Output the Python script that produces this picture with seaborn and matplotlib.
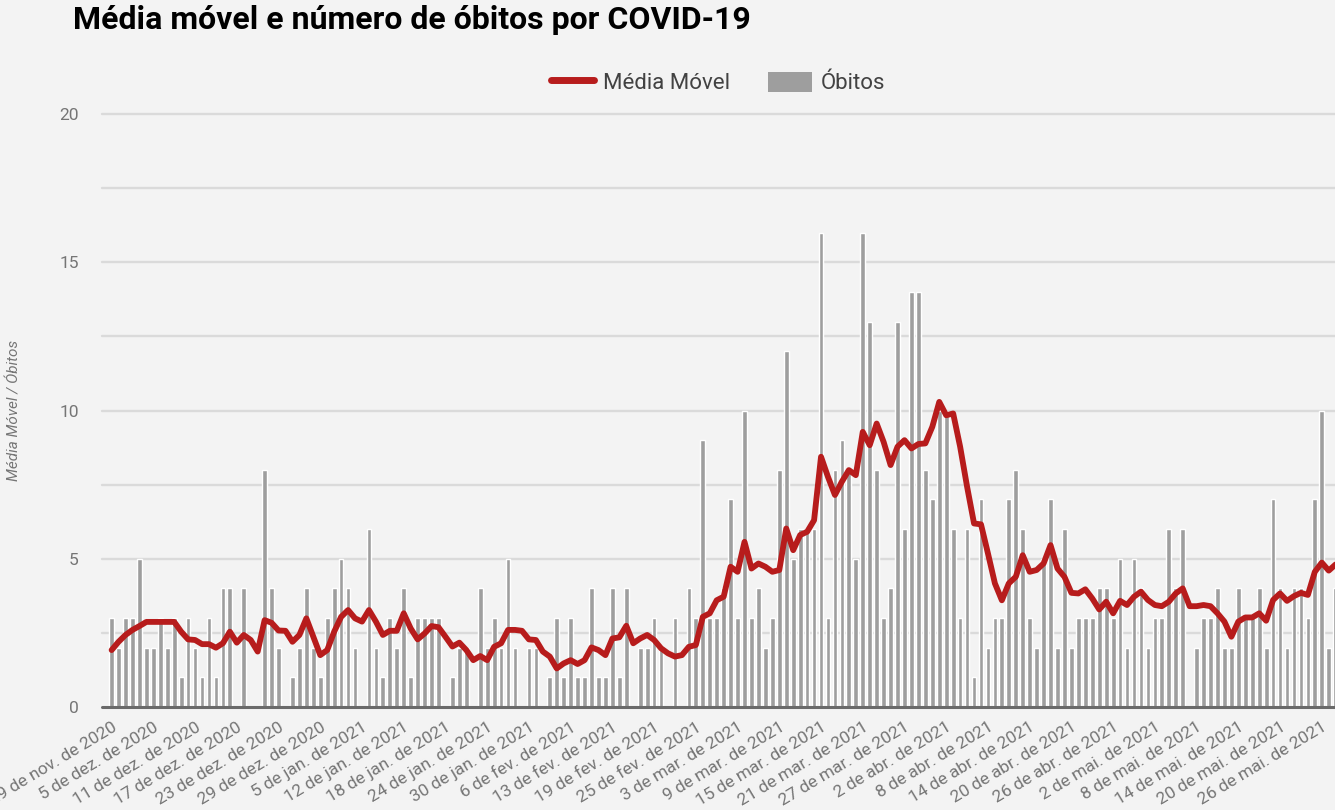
import numpy as np
import pandas as pd
import matplotlib
matplotlib.use("Agg")
import matplotlib.pyplot as plt
import seaborn as sns
from matplotlib.lines import Line2D
from matplotlib.patches import Patch

# ---------------- data ----------------
obitos = [
    3, 2, 3, 3, 5, 2, 2, 3, 2, 3,
    1, 3, 2, 1, 3, 1, 4, 4, 0, 4,
    0, 0, 8, 4, 2, 0, 1, 2, 4, 2,
    1, 3, 4, 5, 4, 2, 0, 6, 2, 1,
    3, 2, 4, 1, 3, 3, 3, 3, 0, 1,
    2, 2, 0, 4, 2, 3, 2, 5, 2, 0,
    2, 2, 0, 1, 3, 1, 3, 1, 1, 4,
    1, 1, 4, 1, 4, 0, 2, 2, 3, 2,
    0, 3, 0, 4, 3, 9, 3, 3, 4, 7,
    3, 10, 3, 4, 2, 3, 8, 12, 5, 6,
    6, 6, 16, 3, 8, 9, 8, 5, 16, 13,
    8, 3, 4, 13, 6, 14, 14, 8, 7, 10,
    10, 6, 3, 6, 1, 7, 2, 3, 3, 7,
    8, 6, 3, 2, 5, 7, 2, 6, 2, 3,
    3, 3, 4, 4, 3, 5, 2, 5, 4, 2,
    3, 3, 6, 4, 6, 0, 2, 3, 3, 4,
    2, 2, 4, 3, 3, 4, 2, 7, 4, 2,
    4, 4, 3, 7, 10, 2, 4,
]

media_movel = [
    1.92, 2.20, 2.43, 2.60, 2.73, 2.87, 2.87, 2.87, 2.87, 2.87,
    2.54, 2.28, 2.26, 2.12, 2.12, 2.00, 2.15, 2.54, 2.17, 2.43,
    2.26, 1.87, 2.93, 2.84, 2.58, 2.57, 2.20, 2.43, 2.99, 2.37,
    1.75, 1.92, 2.54, 3.04, 3.27, 2.99, 2.88, 3.27, 2.88, 2.43,
    2.57, 2.57, 3.16, 2.65, 2.28, 2.48, 2.73, 2.69, 2.37, 2.04,
    2.17, 1.92, 1.58, 1.72, 1.58, 2.03, 2.15, 2.60, 2.60, 2.57,
    2.28, 2.26, 1.87, 1.70, 1.30, 1.47, 1.58, 1.45, 1.58, 2.01,
    1.92, 1.75, 2.31, 2.35, 2.74, 2.15, 2.31, 2.43, 2.26, 1.98,
    1.81, 1.70, 1.75, 2.03, 2.09, 3.04, 3.16, 3.60, 3.72, 4.73,
    4.56, 5.57, 4.67, 4.84, 4.73, 4.56, 4.62, 6.02, 5.29, 5.80,
    5.91, 6.30, 8.44, 7.76, 7.15, 7.60, 7.99, 7.82, 9.28, 8.83,
    9.56, 8.94, 8.16, 8.78, 9.00, 8.72, 8.87, 8.89, 9.45, 10.29,
    9.84, 9.90, 8.78, 7.43, 6.19, 6.16, 5.18, 4.17, 3.60, 4.17,
    4.39, 5.12, 4.56, 4.62, 4.84, 5.46, 4.67, 4.39, 3.85, 3.83,
    3.97, 3.66, 3.29, 3.55, 3.16, 3.58, 3.44, 3.72, 3.89, 3.61,
    3.44, 3.40, 3.55, 3.83, 4.00, 3.40, 3.40, 3.44, 3.40, 3.16,
    2.88, 2.37, 2.88, 3.02, 3.02, 3.16, 2.91, 3.61, 3.83, 3.58,
    3.74, 3.85, 3.78, 4.56, 4.87, 4.60, 4.81,
]

data_inicio = "2020-11-29"
data_fim = "2021-05-28"
dias_sem_registro = ["2021-01-01", "2021-01-10", "2021-01-31", "2021-02-07"]
meses = {1: "jan", 2: "fev", 3: "mar", 4: "abr", 5: "mai", 6: "jun",
         7: "jul", 8: "ago", 9: "set", 10: "out", 11: "nov", 12: "dez"}
passo_rotulo = 6
y_ticks = [0, 5, 10, 15, 20]

titulo = "Média móvel e número de óbitos por COVID-19"
rotulo_y = "Média Móvel / Óbitos"
serie_linha = "Média Móvel"
serie_barra = "Óbitos"

# ---------------- frame ----------------
datas = pd.date_range(data_inicio, data_fim)
datas = datas[~datas.isin(pd.to_datetime(dias_sem_registro))]
df = pd.DataFrame({"data": datas, "obitos": obitos, "media": media_movel})
df["pos"] = np.arange(len(df))
df["rotulo"] = [f"{d.day} de {meses[d.month]}. de {d.year}" for d in df["data"]]

# ---------------- style ----------------
sns.set_theme(style="white")
plt.rcParams["font.family"] = ["Roboto", "DejaVu Sans"]

BG = "#f3f3f3"
BAR = "#9e9e9e"
RED = "#b71c1c"
GRID = "#dadada"
TXT = "#757575"

W, H = 1335, 810
fig = plt.figure(figsize=(W / 100, H / 100), dpi=100, facecolor=BG)
left_px, right_px, top_px, bot_px = 102.3, 1335, 114, 707
ax = fig.add_axes([left_px / W, (H - bot_px) / H,
                   (right_px - left_px) / W, (bot_px - top_px) / H])
ax.set_facecolor(BG)

for yv in np.arange(2.5, 20.01, 2.5):
    ax.axhline(yv, color=GRID, lw=1.7, zorder=0, clip_on=False)

sns.barplot(data=df, x="pos", y="obitos", native_scale=True, width=0.68,
            color=BAR, saturation=1, errorbar=None, ax=ax, zorder=2)
sns.lineplot(data=df, x="pos", y="media", color=RED, lw=4.2, ax=ax,
             zorder=3, solid_joinstyle="round", solid_capstyle="round")
ax.axhline(0, color="#6a6a6a", lw=2.2, zorder=4, clip_on=False)

ax.set_ylim(0, 20)
ax.set_xlim(-1.34, 175.9)
for s in ax.spines.values():
    s.set_visible(False)

ticks = df.iloc[::passo_rotulo]
ax.set_xticks(ticks["pos"].to_numpy())
ax.set_xticklabels(ticks["rotulo"].tolist())
ax.tick_params(axis="x", length=0, pad=9, labelsize=12.5, labelcolor=TXT)
for lab in ax.get_xticklabels():
    lab.set_rotation(31)
    lab.set_ha("right")
    lab.set_rotation_mode("anchor")

ax.set_yticks(y_ticks)
ax.set_yticklabels([str(v) for v in y_ticks])
ax.tick_params(axis="y", length=0, pad=17, labelsize=12.5, labelcolor=TXT)

ax.set_xlabel("")
ax.set_ylabel(rotulo_y, fontsize=11, fontstyle="italic", color=TXT)
ax.yaxis.set_label_coords((22 - left_px) / (right_px - left_px), 0.5)

fig.text(73 / W, 1 - 20 / H, titulo, fontsize=23, fontweight="bold",
         color="black", ha="left", va="center")

handles = [
    Line2D([], [], color=RED, lw=5),
    Patch(facecolor=BAR, edgecolor="none"),
]
fig.legend(handles, [serie_linha, serie_barra], loc="center",
           bbox_to_anchor=(718 / W, 1 - 83 / H), ncol=2, frameon=False,
           fontsize=16, handlelength=1.95, handleheight=1.0,
           handletextpad=0.4, columnspacing=1.7, labelcolor="#424242")

fig.savefig("out.png", dpi=100, facecolor=BG)
